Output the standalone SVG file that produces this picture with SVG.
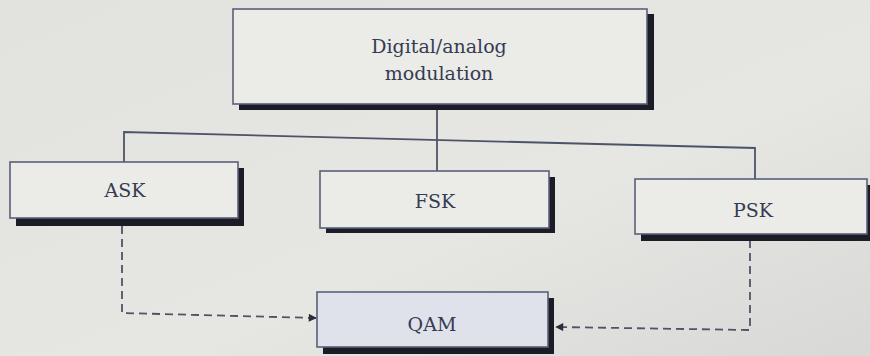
<svg xmlns="http://www.w3.org/2000/svg" width="870" height="356" viewBox="0 0 870 356">
<defs>
<linearGradient id="bg" x1="0" y1="0" x2="1" y2="1">
<stop offset="0" stop-color="#e2e2de"/>
<stop offset="0.6" stop-color="#e6e6e3"/>
<stop offset="1" stop-color="#d8d8d6"/>
</linearGradient>
<marker id="arr" viewBox="0 0 10 10" refX="9" refY="5" markerWidth="9" markerHeight="8" markerUnits="userSpaceOnUse" orient="auto">
<path d="M0,0 L10,5 L0,10 z" fill="#2a2d3a"/>
</marker>
<style>
.shadow{fill:#1c1c26}
.box{fill:#ebebe8;stroke:#5a6078;stroke-width:1.6}
.qam{fill:#dfe2ea;stroke:#5a6078;stroke-width:1.6}
.lbl{font-family:"DejaVu Serif",serif;font-size:19px;fill:#363b52;text-anchor:middle}
.conn{fill:none;stroke:#4e5468;stroke-width:1.8}
.dash{fill:none;stroke:#4e5468;stroke-width:1.8;stroke-dasharray:8 5}
</style>
</defs>
<rect width="870" height="356" fill="url(#bg)"/>
<g id="connectors">
<polyline class="conn" points="124,162 124,132 755,148 755,179"/>
<line class="conn" x1="437" y1="106" x2="437" y2="171"/>
<polyline class="dash" points="122,226 122,313 316,318" marker-end="url(#arr)"/>
<polyline class="dash" points="750,240 750,330 556,327" marker-end="url(#arr)"/>
</g>
<g id="top">
<rect class="shadow" x="239" y="14" width="415" height="96"/>
<rect class="box" x="233" y="9" width="414" height="95"/>
<text class="lbl" x="439" y="53">Digital/analog</text>
<text class="lbl" x="439" y="80">modulation</text>
</g>
<g id="ask">
<rect class="shadow" x="16" y="168" width="228" height="58"/>
<rect class="box" x="10" y="162" width="228" height="56"/>
<text class="lbl" x="125" y="197">ASK</text>
</g>
<g id="fsk">
<rect class="shadow" x="326" y="177" width="229" height="56"/>
<rect class="box" x="320" y="171" width="229" height="57"/>
<text class="lbl" x="435" y="208">FSK</text>
</g>
<g id="psk">
<rect class="shadow" x="641" y="185" width="235" height="56"/>
<rect class="box" x="635" y="179" width="232" height="55"/>
<text class="lbl" x="753" y="217">PSK</text>
</g>
<g id="qam">
<rect class="shadow" x="323" y="298" width="231" height="56"/>
<rect class="qam" x="317" y="292" width="231" height="55"/>
<text class="lbl" x="432" y="331">QAM</text>
</g>
</svg>
